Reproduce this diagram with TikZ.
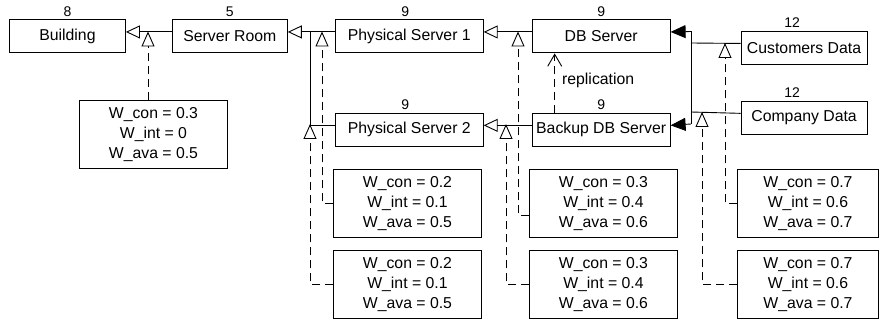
\documentclass[tikz,border=0pt]{standalone}
\usepackage{fontspec}
\setmainfont{Liberation Sans}
\usetikzlibrary{arrows.meta, positioning}
\tikzset{
  entity/.style={draw, rectangle, line width=0.9pt, minimum height=33pt, inner sep=0pt, font=\fontsize{15.8}{20}\selectfont},
  weights/.style={draw, rectangle, line width=0.9pt, minimum height=68pt, align=center, inner sep=0pt, anchor=north west, font=\fontsize{15.8}{20}\selectfont},
  count/.style={font=\fontsize{14}{16}\selectfont, inner sep=3pt},
  link/.style={line width=0.9pt},
  gen/.style={link, -{Triangle[open, length=14pt, width=13pt]}},
  real/.style={link, dash pattern=on 8pt off 5pt, -{Triangle[open, length=15pt, width=13pt]}},
  comp/.style={link, -{Triangle[length=15pt, width=13pt]}},
  repl/.style={link, dash pattern=on 8pt off 5pt, -{Straight Barb[length=12pt, width=14pt]}},
}
\begin{document}
\begin{tikzpicture}[x=1pt, y=-1pt]
  \useasboundingbox (0,0) rectangle (880,323);

  % main entities
  \node[entity, minimum width=116pt, anchor=north west, label={[count]above:8}] (building) at (9,19.5) {Building};
  \node[entity, minimum width=115pt, right=46pt of building, label={[count]above:5}] (serverroom) {Server Room};
  \node[entity, minimum width=148pt, right=47pt of serverroom, label={[count, xshift=-4pt]above:9}] (ps1) {Physical Server 1};
  \node[entity, minimum width=138pt, right=48pt of ps1, label={[count]above:9}] (db) {DB Server};
  \node[entity, minimum width=126pt, right=70pt of db, yshift=-11.5pt, label={[count, xshift=-12pt]above:12}] (customers) {Customers Data};
  \node[entity, minimum width=148pt, below=59.5pt of ps1, label={[count, xshift=-4pt]above:9}] (ps2) {Physical Server 2};
  \node[entity, minimum width=138pt, below=59.5pt of db, label={[count]above:9}] (backup) {Backup DB Server};
  \node[entity, minimum width=126pt, below=36pt of customers, label={[count, xshift=-12pt]above:12}] (company) {Company Data};

  % weight boxes
  \node[weights, minimum width=148pt] (w-room) at (79,100) {W\_con = 0.3\\W\_int = 0\\W\_ava = 0.5};
  \node[weights, minimum width=148pt] (w-ps1) at (333,169) {W\_con = 0.2\\W\_int = 0.1\\W\_ava = 0.5};
  \node[weights, minimum width=148pt] (w-ps2) at (333,250) {W\_con = 0.2\\W\_int = 0.1\\W\_ava = 0.5};
  \node[weights, minimum width=148pt] (w-db) at (529,169) {W\_con = 0.3\\W\_int = 0.4\\W\_ava = 0.6};
  \node[weights, minimum width=148pt] (w-backup) at (529,250) {W\_con = 0.3\\W\_int = 0.4\\W\_ava = 0.6};
  \node[weights, minimum width=141pt] (w-customers) at (737,169) {W\_con = 0.7\\W\_int = 0.6\\W\_ava = 0.7};
  \node[weights, minimum width=141pt] (w-company) at (737,250) {W\_con = 0.7\\W\_int = 0.6\\W\_ava = 0.7};

  % junctions on the connectors
  \coordinate (j-room) at (148,31.5);
  \coordinate (j-ps1) at (322,31.5);
  \coordinate (bus-room) at (310,31.5);
  \coordinate (j-ps2) at (310,124);
  \coordinate (j-db) at (518,31.5);
  \coordinate (j-backup) at (506,124);
  \coordinate (bus-top) at (691,31.5);
  \coordinate (bus-bottom) at (691,124);
  \coordinate (j-customers) at (725,43);
  \coordinate (j-company) at (702,112);

  % part-of connectors
  \draw[gen] ([yshift=4.5pt]serverroom.west) -- ([yshift=4.5pt]building.east);
  \draw[gen] ([yshift=4.5pt]ps1.west) -- ([yshift=4.5pt]serverroom.east);
  \draw[link] ([yshift=4.5pt]ps2.west) -| (bus-room);
  \draw[gen] ([yshift=4.5pt]db.west) -- ([yshift=4.5pt]ps1.east);
  \draw[gen] ([yshift=4.5pt]backup.west) -- ([yshift=4.5pt]ps2.east);
  \draw[comp] (bus-top) -- ([yshift=4.5pt]db.east);
  \draw[comp] (bus-bottom) -- ([yshift=4.5pt]backup.east);
  \draw[link] (bus-top) -- (bus-bottom);
  \draw[link] ([yshift=4.5pt]customers.west) -- (j-customers -| bus-top);
  \draw[link] ([yshift=4.5pt]company.west) -- (j-company -| bus-top);

  % weights attached to the connectors
  \draw[real] (j-room |- w-room.north) -- (j-room);
  \draw[real] (w-ps1.west) -| (j-ps1);
  \draw[real] (w-ps2.west) -| (j-ps2);
  \draw[real] ([yshift=-12pt]w-db.west) -| (j-db);
  \draw[real] (w-backup.west) -| (j-backup);
  \draw[real] (w-customers.west) -| (j-customers);
  \draw[real] (w-company.west) -| (j-company);

  \draw[repl] ([xshift=23pt]backup.north west) -- node[pos=0.54, right, inner xsep=7pt, font=\fontsize{15.8}{20}\selectfont] {replication} ([xshift=23pt]db.south west);
\end{tikzpicture}
\end{document}
